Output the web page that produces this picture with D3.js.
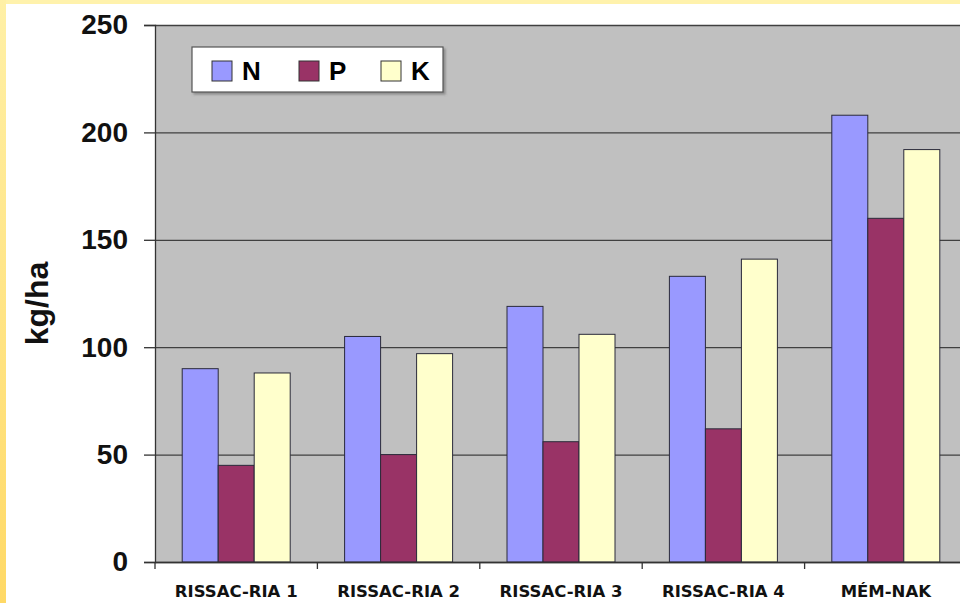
<!DOCTYPE html>
<html>
<head>
<meta charset="utf-8">
<script src="https://cdn.jsdelivr.net/npm/d3@7"></script>
<style>
  body { margin: 0; padding: 0; overflow: hidden; }
  svg { display: block; }
</style>
</head>
<body>
<div id="chart"></div>
<script>
// adatok
const categories = ["RISSAC-RIA 1", "RISSAC-RIA 2", "RISSAC-RIA 3", "RISSAC-RIA 4", "MÉM-NAK"]
const seriesNames = ["N", "P", "K"]
const valuesN = [90, 105, 119, 133, 208]
const valuesP = [45, 50, 56, 62, 160]
const valuesK = [88, 97, 106, 141, 192]
const yTicks = [0, 50, 100, 150, 200, 250]
const colors = ["#9999FF", "#993366", "#FFFFCC"]

const width = 960
const height = 603
const plot = {left: 155, right: 967, top: 25, bottom: 562}

const rows = categories.map((c, i) => ({cat: c, N: valuesN[i], P: valuesP[i], K: valuesK[i]}))

let svg = d3.select("#chart")
    .append("svg")
    .attr("width", width)
    .attr("height", height)

// Hintergrund (gelber Rahmen)
const defs = svg.append("defs")
const grad = defs.append("linearGradient").attr("id", "edge").attr("x1", 0).attr("y1", 0).attr("x2", 0).attr("y2", 1)
grad.append("stop").attr("offset", "0%").attr("stop-color", "#FFF0A6")
grad.append("stop").attr("offset", "100%").attr("stop-color", "#FFD966")

const sh = defs.append("filter").attr("id", "shadow").attr("x", "-5%").attr("y", "-10%").attr("width", "115%").attr("height", "140%")
sh.append("feDropShadow").attr("dx", 2).attr("dy", 2).attr("stdDeviation", 1).attr("flood-color", "#555").attr("flood-opacity", 0.5)

svg.append("rect").attr("width", width).attr("height", height).attr("fill", "#FFF2AC")
svg.append("rect").attr("x", 0).attr("y", 0).attr("width", 6).attr("height", height).attr("fill", "url(#edge)")
svg.append("rect").attr("x", 6).attr("y", 4).attr("width", width - 6).attr("height", height - 4).attr("fill", "#FFFFFF")

// Skalen
const x0 = d3.scaleBand().domain(categories).range([plot.left, plot.right]).padding(0)
const bw = x0.bandwidth()
const x1 = d3.scaleBand().domain(seriesNames).range([bw * 0.1675, bw * 0.8325]).padding(0)
const y = d3.scaleLinear().domain([0, 250]).range([plot.bottom, plot.top])
const color = d3.scaleOrdinal().domain(seriesNames).range(colors)

// Plotfläche
svg.append("rect")
    .attr("x", plot.left).attr("y", plot.top)
    .attr("width", plot.right - plot.left).attr("height", plot.bottom - plot.top)
    .attr("fill", "#C0C0C0")

// Gitterlinien
svg.append("g")
    .attr("transform", `translate(${plot.left},0)`)
    .call(d3.axisLeft(y).tickValues(yTicks).tickSize(-(plot.right - plot.left)).tickFormat(""))
    .call(g => g.select(".domain").remove())
    .call(g => g.selectAll("line").attr("stroke", "#404040").attr("stroke-width", 1.3))

// Balken
const groups = svg.append("g").selectAll("g")
    .data(rows)
    .enter().append("g")
    .attr("transform", d => `translate(${x0(d.cat)},0)`)

groups.selectAll("rect")
    .data(d => seriesNames.map(s => ({key: s, value: d[s]})))
    .enter().append("rect")
    .attr("x", d => x1(d.key))
    .attr("y", d => y(d.value))
    .attr("width", x1.bandwidth())
    .attr("height", d => y(0) - y(d.value))
    .attr("fill", d => color(d.key))
    .attr("stroke", "#2a2a3a")
    .attr("stroke-width", 1)

// y-Achse
svg.append("g")
    .attr("transform", `translate(${plot.left},0)`)
    .call(d3.axisLeft(y).tickValues(yTicks).tickSize(11).tickPadding(16))
    .call(g => g.select(".domain").attr("stroke", "#333").attr("stroke-width", 1.3))
    .call(g => g.selectAll("line").attr("stroke", "#333").attr("stroke-width", 1.3))
    .call(g => g.selectAll("text")
        .attr("font-family", "Liberation Sans, Arial, sans-serif")
        .attr("font-weight", "bold")
        .attr("font-size", 28)
        .attr("fill", "#111"))

// x-Achse
svg.append("g")
    .attr("transform", `translate(0,${plot.bottom})`)
    .call(d3.axisBottom(x0).tickSize(0).tickPadding(0))
    .call(g => g.select(".domain").attr("stroke", "#333").attr("stroke-width", 1.3))
    .call(g => g.selectAll("text")
        .attr("y", 35)
        .attr("dy", null)
        .attr("font-family", "DejaVu Sans, sans-serif")
        .attr("font-weight", "bold")
        .attr("font-size", 16.5)
        .attr("fill", "#111"))

// Trennstriche zwischen Kategorien
svg.append("g").selectAll("line")
    .data(categories)
    .enter().append("line")
    .attr("x1", d => x0(d)).attr("x2", d => x0(d))
    .attr("y1", plot.bottom).attr("y2", plot.bottom + 7)
    .attr("stroke", "#333").attr("stroke-width", 1.3)

// Achsentitel
svg.append("text")
    .attr("transform", `translate(48,${(plot.top + plot.bottom) / 2 + 10}) rotate(-90)`)
    .attr("text-anchor", "middle")
    .attr("font-family", "Liberation Sans, Arial, sans-serif")
    .attr("font-weight", "bold")
    .attr("font-size", 32)
    .attr("fill", "#111")
    .text("kg/ha")

// Legende
const legend = svg.append("g").attr("transform", "translate(192,47)")
legend.append("rect")
    .attr("width", 251).attr("height", 45)
    .attr("fill", "#FFFFFF").attr("stroke", "#555").attr("stroke-width", 1.2)
    .attr("filter", "url(#shadow)")

const legX = [20, 107, 189]
const item = legend.selectAll(".item")
    .data(seriesNames)
    .enter().append("g")
    .attr("class", "item")
    .attr("transform", (d, i) => `translate(${legX[i]},14)`)

item.append("rect")
    .attr("width", 20).attr("height", 20)
    .attr("fill", d => color(d)).attr("stroke", "#333").attr("stroke-width", 1)

item.append("text")
    .attr("x", 30).attr("y", 19)
    .attr("font-family", "Liberation Sans, Arial, sans-serif")
    .attr("font-weight", "bold")
    .attr("font-size", 26)
    .attr("fill", "#000")
    .text(d => d)
</script>
</body>
</html>
